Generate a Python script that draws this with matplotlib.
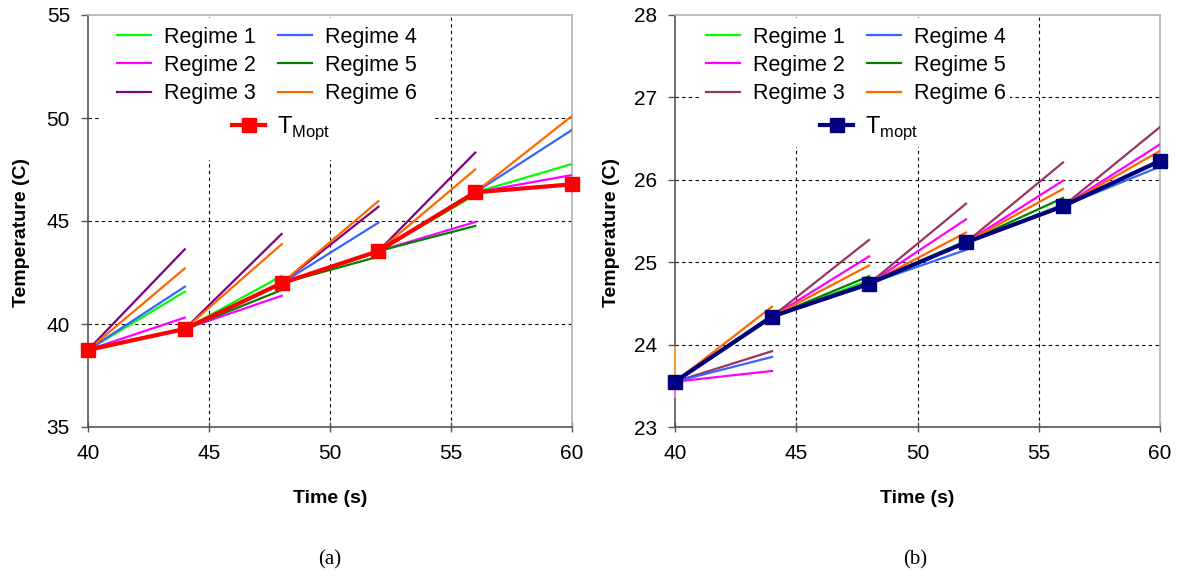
import matplotlib
matplotlib.use('Agg')
import matplotlib.pyplot as plt
from matplotlib.patches import Rectangle

plt.rcParams['font.family'] = ['Liberation Sans', 'DejaVu Sans']
plt.rcParams['mathtext.fontset'] = 'custom'
plt.rcParams['mathtext.rm'] = 'Liberation Sans'

times = [40, 44, 48, 52, 56, 60]
regime_names = ['Regime 1', 'Regime 2', 'Regime 3', 'Regime 4', 'Regime 5', 'Regime 6']

# panel (a): optimal temperature and the end value of each regime's 4 s prediction
tmopt_a = [38.74, 39.76, 41.98, 43.54, 46.39, 46.78]
reg1_a = [41.57, 42.33, 43.52, 46.26, 47.77]
reg2_a = [40.31, 41.37, 43.50, 44.95, 47.23]
reg3_a = [43.63, 44.37, 45.69, 48.32, 46.80]
reg4_a = [41.81, 42.02, 44.92, 46.45, 49.42]
reg5_a = [39.76, 41.65, 43.27, 44.76, 46.78]
reg6_a = [42.70, 43.87, 45.97, 47.50, 50.10]

# panel (b)
tmopt_b = [23.55, 24.34, 24.74, 25.24, 25.68, 26.23]
reg1_b = [24.36, 24.78, 25.26, 25.70, 26.24]
reg2_b = [23.68, 25.07, 25.52, 25.99, 26.43]
reg3_b = [23.92, 25.27, 25.71, 26.21, 26.64]
reg4_b = [23.85, 24.72, 25.15, 25.67, 26.16]
reg5_b = [24.33, 24.83, 25.25, 25.78, 26.22]
reg6_b = [24.46, 24.96, 25.36, 25.89, 26.35]
# short stubs at t=40 in panel (b)
stub_b = {'#FF9933': 23.97, '#FF66FF': 23.37}

yticks_a = [35, 40, 45, 50, 55]
yticks_b = [23, 24, 25, 26, 27, 28]


def draw_panel(ax, tmopt, regimes, colors, opt_color, opt_label, yticks, box, leg_x, leg2_x, ylab_x):
    ax.set_xlim(40, 60)
    ax.set_ylim(yticks[0], yticks[-1])
    ax.set_xticks([40, 45, 50, 55, 60])
    ax.set_yticks(yticks)
    ax.set_axisbelow(True)

    # dashed grid, only inside the box
    for x in [45, 50, 55]:
        ax.axvline(x, color='black', linestyle=(0, (3, 3)), linewidth=0.8, zorder=0.5)
    for y in yticks[1:-1]:
        ax.axhline(y, color='black', linestyle=(0, (3, 3)), linewidth=0.8, zorder=0.5)

    # white legend area hides the grid behind it
    ax.add_patch(Rectangle((box[0], box[1]), box[2], box[3], transform=ax.transAxes,
                           facecolor='white', edgecolor='none', zorder=1))

    handles = []
    for vals, col, name in zip(regimes, colors, regime_names):
        for i in range(len(vals)):
            ln, = ax.plot([times[i], times[i + 1]], [tmopt[i], vals[i]], color=col,
                          linewidth=1.6, zorder=3)
        ln.set_label(name)
        handles.append(ln)

    opt, = ax.plot(times, tmopt, color=opt_color, linewidth=3, marker='s', markersize=9.5,
                   zorder=5, label=opt_label, clip_on=False)

    leg = ax.legend(handles=handles, ncol=2, loc='upper left', bbox_to_anchor=(leg_x, 0.972),
                    frameon=False, fontsize=15.5, handlelength=1.6, handletextpad=0.6,
                    columnspacing=1.0, labelspacing=0.34, borderpad=0, borderaxespad=0)
    ax.add_artist(leg)
    ax.legend(handles=[opt], loc='upper left', bbox_to_anchor=(leg2_x, 0.758), frameon=False,
              fontsize=17, handlelength=1.4, handletextpad=0.5, numpoints=1,
              borderpad=0, borderaxespad=0)

    ax.spines['left'].set_color('#555555')
    ax.spines['bottom'].set_color('#555555')
    ax.spines['top'].set_color('#b0b0b0')
    ax.spines['right'].set_color('#b0b0b0')
    for s in ax.spines.values():
        s.set_linewidth(1.2)
    ax.tick_params(axis='y', direction='out', length=5, width=1, color='#555555',
                   labelsize=15, pad=8)
    ax.tick_params(axis='x', direction='inout', length=7, width=1, color='#555555',
                   labelsize=15, pad=9)

    ax.set_ylabel('Temperature (C)', fontsize=14, fontweight='bold')
    ax.yaxis.set_label_coords(ylab_x, 0.473)
    ax.set_xlabel('Time (s)', fontsize=14, fontweight='bold')
    ax.xaxis.set_label_coords(0.5, -0.152)


fig = plt.figure(figsize=(11.8, 5.78), dpi=100)
ax_a = fig.add_axes([88 / 1180, 1 - 427 / 578, 484 / 1180, 412 / 578])
ax_b = fig.add_axes([675 / 1180, 1 - 427 / 578, 485 / 1180, 412 / 578])

colors_a = ['#00FF00', '#FF00FF', '#800080', '#3366FF', '#008000', '#FF6600']
colors_b = ['#00FF00', '#FF00FF', '#993366', '#3366FF', '#008000', '#FF6600']

draw_panel(ax_a, tmopt_a, [reg1_a, reg2_a, reg3_a, reg4_a, reg5_a, reg6_a], colors_a,
           '#FF0000', r'T$_{\mathregular{Mopt}}$', yticks_a,
           (0.025, 0.648, 0.685, 0.345), 0.06, 0.298, -0.12)
for col, v in stub_b.items():
    ax_b.plot([40, 40], [tmopt_b[0], v], color=col, linewidth=1.4, zorder=2.6, clip_on=False)
draw_panel(ax_b, tmopt_b, [reg1_b, reg2_b, reg3_b, reg4_b, reg5_b, reg6_b], colors_b,
           '#000080', r'T$_{\mathregular{mopt}}$', yticks_b,
           (0.05, 0.68, 0.64, 0.313), 0.064, 0.299, -0.113)

fig.text(330 / 1180, 1 - 560 / 578, '(a)', ha='center', va='center', fontsize=15,
         family=['Liberation Serif', 'DejaVu Serif'])
fig.text(915 / 1180, 1 - 560 / 578, '(b)', ha='center', va='center', fontsize=15,
         family=['Liberation Serif', 'DejaVu Serif'])

fig.savefig('out.png', dpi=100, facecolor='white')
